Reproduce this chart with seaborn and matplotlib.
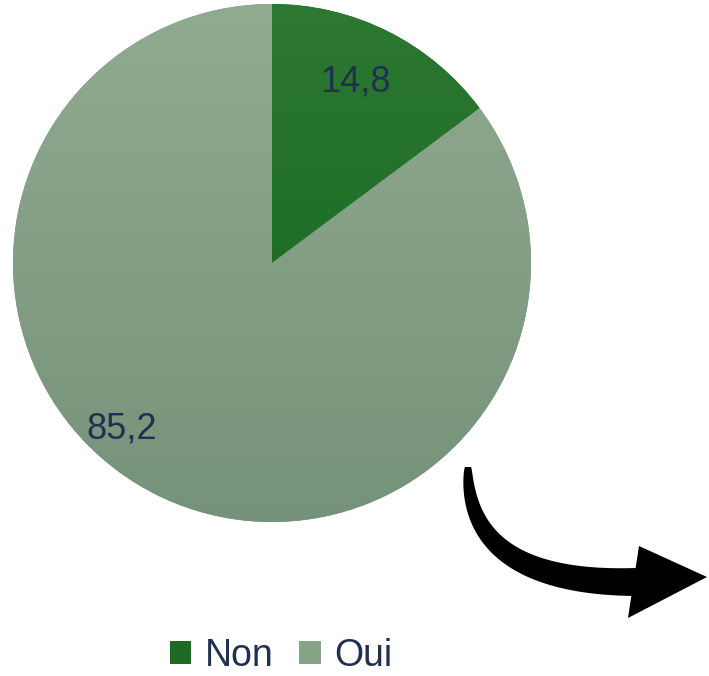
import numpy as np
import matplotlib
matplotlib.use("Agg")
import matplotlib.pyplot as plt
import seaborn as sns
from matplotlib.patches import Patch, Polygon
from matplotlib.colors import LinearSegmentedColormap

sns.set_theme(style="white")
plt.rcParams['font.family'] = ['Liberation Sans', 'DejaVu Sans']

categories = ["Non", "Oui"]
values = [14.8, 85.2]
value_labels = ["14,8", "85,2"]

col_top = ["#2d7833", "#91ab90"]
col_bot = ["#10651a", "#75927a"]
legend_colors = ["#1b6b22", "#86a386"]
text_color = "#1f3050"

W, H = 709, 676
fig = plt.figure(figsize=(W / 100, H / 100), dpi=100)
fig.patch.set_facecolor("white")

# pie axes
cx, cy, r = 272, 263, 259
ax = fig.add_axes([(cx - r) / W, (H - cy - r) / H, 2 * r / W, 2 * r / H])
wedges, _ = ax.pie(values, startangle=90, counterclock=False, radius=1,
                   wedgeprops=dict(linewidth=0))
ax.set_xlim(-1, 1)
ax.set_ylim(-1, 1)
ax.set_aspect("auto")
ax.axis("off")

# gradient fills clipped to wedges
grad = np.linspace(1, 0, 256).reshape(-1, 1)
for w, ct, cb in zip(wedges, col_top, col_bot):
    cmap = LinearSegmentedColormap.from_list("g", [cb, ct])
    im = ax.imshow(grad, cmap=cmap, extent=[-1, 1, -1, 1], aspect="auto",
                   origin="upper", zorder=w.get_zorder() + 0.1, vmin=0, vmax=1)
    im.set_clip_path(w)
    w.set_facecolor(cb)

# value labels
label_pos = [(65.4, 0.77), (-132.0, 0.865)]
for (ang, d), txt in zip(label_pos, value_labels):
    a = np.deg2rad(ang)
    ax.text(d * np.cos(a), d * np.sin(a), txt, ha="center", va="center",
            fontsize=26, color=text_color, zorder=10)

# overlay axes for decorative curved arrow (pixel coords, y down)
ov = fig.add_axes([0, 0, 1, 1], zorder=5)
ov.set_xlim(0, W)
ov.set_ylim(H, 0)
ov.axis("off")
ov.patch.set_alpha(0)

P0 = np.array([468.0, 467.0])
P1 = np.array([466.0, 584.0])
P2 = np.array([636.0, 582.0])
t = np.linspace(0, 1, 120)[:, None]
pts = (1 - t) ** 2 * P0 + 2 * (1 - t) * t * P1 + t ** 2 * P2
der = 2 * (1 - t) * (P1 - P0) + 2 * t * (P2 - P1)
tang = der / np.linalg.norm(der, axis=1, keepdims=True)
norm = np.column_stack([-tang[:, 1], tang[:, 0]])
width = 6 + 22 * t[:, 0] ** 0.6
left = pts + norm * (width[:, None] / 2)
right = pts - norm * (width[:, None] / 2)
head = np.array([[639.0, 546.0], [707.0, 577.0], [628.0, 618.0]])
shaft = np.vstack([left, right[::-1]])
ov.add_patch(Polygon(shaft, closed=True, facecolor="black", edgecolor="none"))
ov.add_patch(Polygon(head, closed=True, facecolor="black", edgecolor="none"))

handles = [Patch(facecolor=c, edgecolor="none") for c in legend_colors]
leg = fig.legend(handles, categories, loc="center", bbox_to_anchor=(281 / W, 1 - 656 / H),
                 ncol=2, frameon=False, fontsize=27, handlelength=0.58, handleheight=0.58,
                 handletextpad=0.35, columnspacing=0.7, borderpad=0)
for t_ in leg.get_texts():
    t_.set_color(text_color)

fig.savefig("out.png", dpi=100, facecolor="white")
